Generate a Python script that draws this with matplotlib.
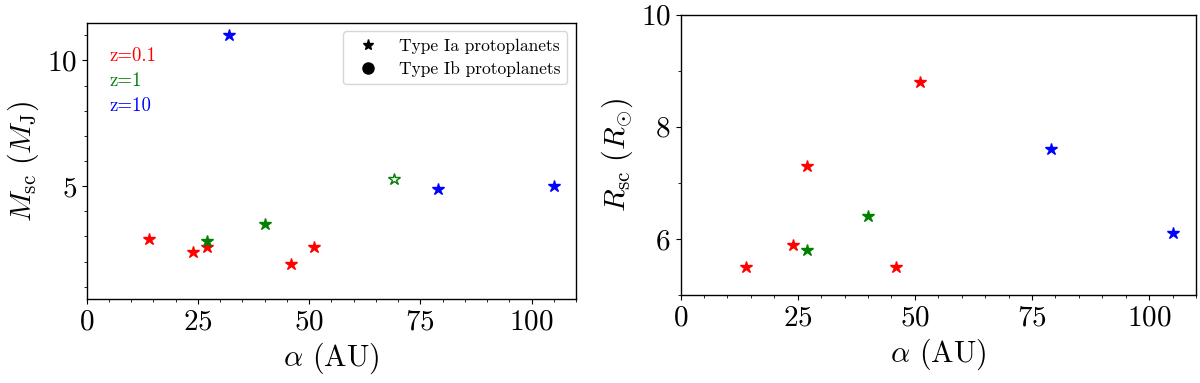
import matplotlib
matplotlib.use("Agg")
import matplotlib.pyplot as plt
from matplotlib.ticker import MultipleLocator

plt.rcParams['font.family'] = 'serif'
plt.rcParams['font.serif'] = ['cmr10', 'DejaVu Serif']
plt.rcParams['mathtext.fontset'] = 'cm'
plt.rcParams['axes.unicode_minus'] = False
plt.rcParams['axes.formatter.use_mathtext'] = True

# ── Data ──────────────────────────────────────────────────────────────────────
# left panel: superclump mass vs. separation
m_red_a   = [14, 24, 27, 46, 51]
m_red_m   = [2.9, 2.4, 2.6, 1.9, 2.6]
m_green_a = [27, 40]
m_green_m = [2.8, 3.5]
m_green_open_a = [69]
m_green_open_m = [5.3]
m_blue_a  = [32, 79, 105]
m_blue_m  = [11.0, 4.9, 5.0]

# right panel: superclump radius vs. separation
r_red_a   = [14, 24, 27, 46, 51]
r_red_r   = [5.5, 5.9, 7.3, 5.5, 8.8]
r_green_a = [27, 40]
r_green_r = [5.8, 6.4]
r_blue_a  = [79, 105]
r_blue_r  = [7.6, 6.1]

z_labels = ['z=0.1', 'z=1', 'z=10']
z_colors = ['r', 'g', 'b']

MS = 9
LABEL_FS = 21.5
TICK_FS = 21

fig = plt.figure(figsize=(12, 3.83), dpi=100)
ax1 = fig.add_axes([0.0722, 0.2185, 0.4078, 0.7222])
ax2 = fig.add_axes([0.5671, 0.2298, 0.4296, 0.7319])

# ── Left: mass ───────────────────────────────────────────────────────────────
ax1.plot(m_red_a, m_red_m, '*', color='r', ms=MS, ls='none')
ax1.plot(m_green_a, m_green_m, '*', color='g', ms=MS, ls='none')
ax1.plot(m_green_open_a, m_green_open_m, '*', mfc='none', mec='g', ms=MS, ls='none')
ax1.plot(m_blue_a, m_blue_m, '*', color='b', ms=MS, ls='none')

h1, = ax1.plot([], [], '*', color='k', ms=8, ls='none', label='Type Ia protoplanets')
h2, = ax1.plot([], [], 'o', color='k', ms=8, ls='none', label='Type Ib protoplanets')
ax1.legend(handles=[h1, h2], loc='upper right', fontsize=12.5, labelspacing=0.45)

for (lab, col, yy) in zip(z_labels, z_colors, [0.88, 0.789, 0.699]):
    ax1.text(0.046, yy, lab, color=col, transform=ax1.transAxes,
             ha='left', va='center', fontsize=13.5)

ax1.set_xlim(0, 110)
ax1.set_ylim(0.5, 11.5)
ax1.set_xticks([0, 25, 50, 75, 100])
ax1.set_yticks([5, 10])
ax1.yaxis.set_minor_locator(MultipleLocator(1))
ax1.set_xlabel(r'$\alpha$ (AU)', fontsize=LABEL_FS)
ax1.set_ylabel(r'$M_{\rm sc}\ (M_{\rm J})$', fontsize=LABEL_FS)

# ── Right: radius ────────────────────────────────────────────────────────────
ax2.plot(r_red_a, r_red_r, '*', color='r', ms=MS, ls='none')
ax2.plot(r_green_a, r_green_r, '*', color='g', ms=MS, ls='none')
ax2.plot(r_blue_a, r_blue_r, '*', color='b', ms=MS, ls='none')

ax2.set_xlim(0, 110)
ax2.set_ylim(5, 10)
ax2.set_xticks([0, 25, 50, 75, 100])
ax2.set_yticks([6, 8, 10])
ax2.yaxis.set_minor_locator(MultipleLocator(1))
ax2.set_xlabel(r'$\alpha$ (AU)', fontsize=LABEL_FS)
ax2.set_ylabel(r'$R_{\rm sc}\ (R_{\odot})$', fontsize=LABEL_FS)

for ax in (ax1, ax2):
    ax.xaxis.set_minor_locator(MultipleLocator(5))
    ax.tick_params(which='major', labelsize=TICK_FS)
    for s in ax.spines.values():
        s.set_linewidth(1.0)

plt.savefig('out.png', dpi=100)
